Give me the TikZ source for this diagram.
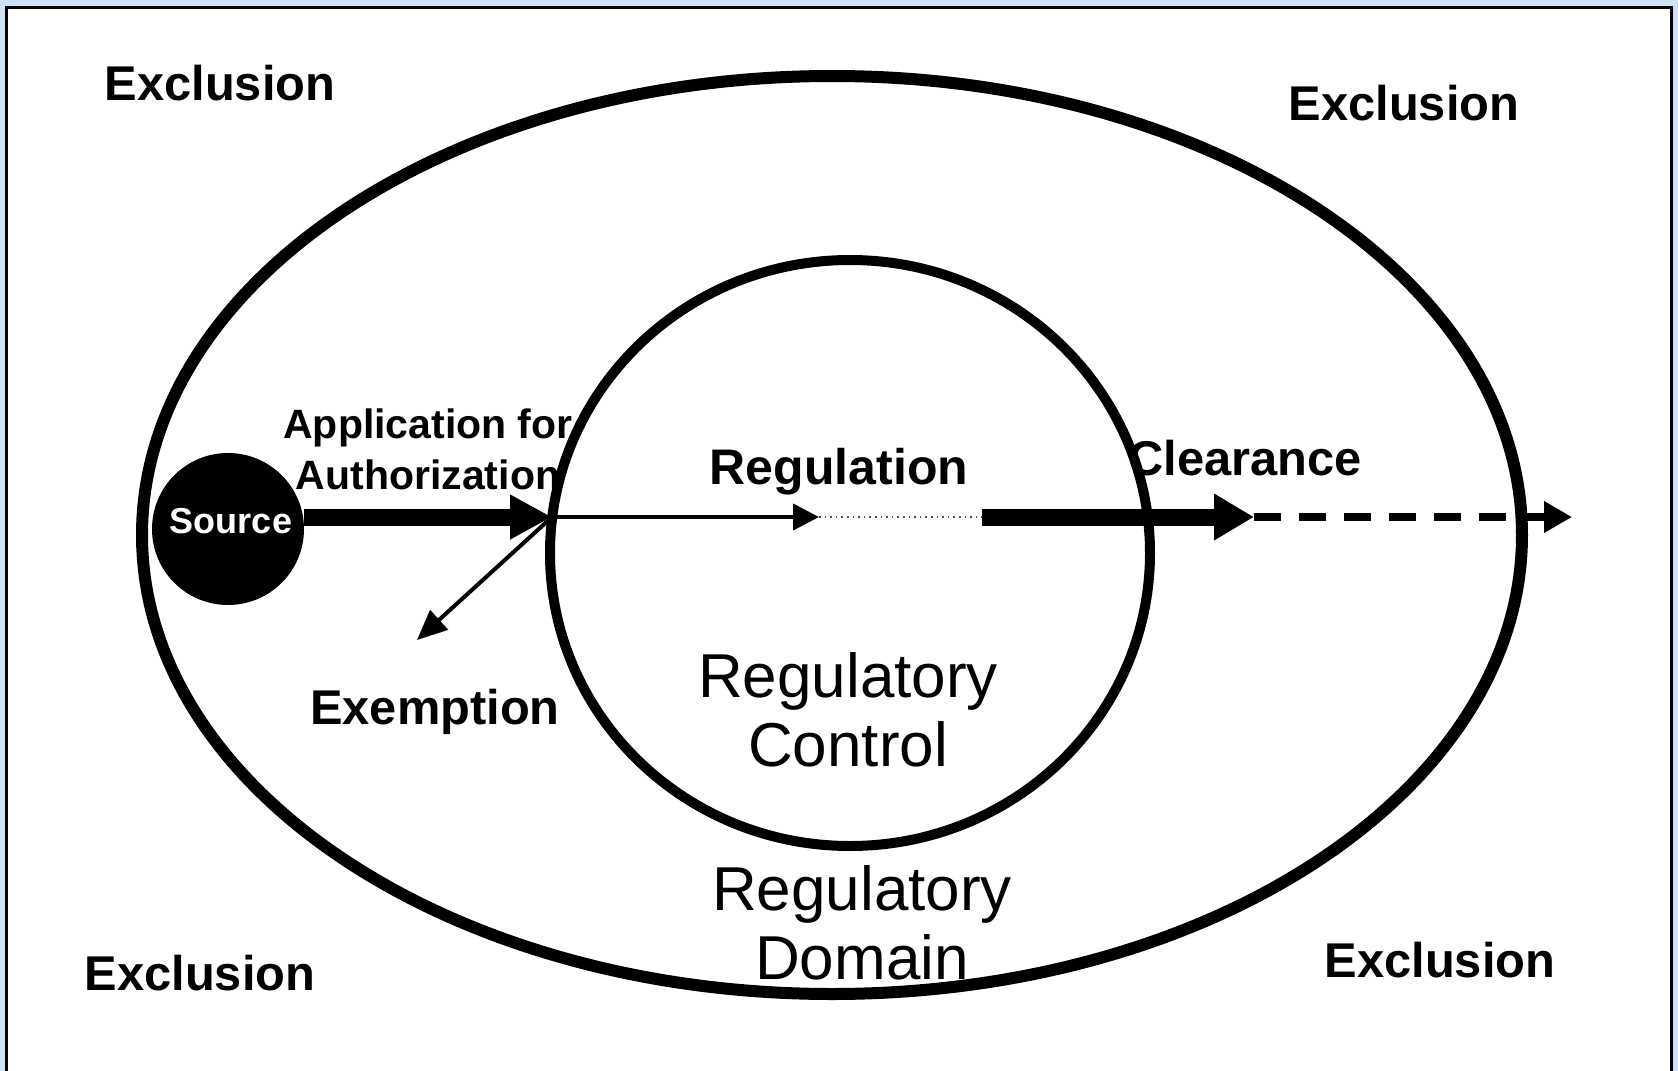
\documentclass[tikz,border=0pt]{standalone}
\usepackage{fontspec}
\setmainfont{Liberation Sans}
\usetikzlibrary{arrows.meta}
\definecolor{bgblue}{RGB}{205,226,248}
\begin{document}
\begin{tikzpicture}[x=0.5pt,y=-0.5pt,
  lbl/.style={inner sep=0pt,font=\bfseries\fontsize{24.4pt}{29pt}\selectfont},
  big/.style={inner sep=0pt,align=center,font=\fontsize{31pt}{34.5pt}\selectfont},
  ring/.style={draw=black,line width=6pt},
  thickarrow/.style={line width=8.5pt,-{Triangle[length=21pt,width=21pt]}},
  thinarrow/.style={line width=2pt,-{Triangle[length=13pt,width=13pt]}}]
\useasboundingbox (0,0) rectangle (1678,1071);
\fill[bgblue] (0,0) rectangle (1678,1071);
\draw[fill=white,line width=1.5pt] (6,7) rectangle (1671,1090);
% ellipses
\draw[ring] (832,535) ellipse [x radius=345pt, y radius=229.5pt];
\draw[draw=black,line width=5pt] (850,553) ellipse [x radius=150pt, y radius=146.5pt];
% source
\node[circle,fill=black,minimum size=76pt,inner sep=0pt] (src) at (228,529) {};
\node[anchor=base,inner sep=0pt,text=white,font=\bfseries\fontsize{18pt}{22pt}\selectfont] (srct) at (231,533) {Source};
% points
\coordinate (J) at (552,517);
\coordinate (R) at (819,517);
\coordinate (D) at (982,517);
\coordinate (C) at (1254,517);
\coordinate (E) at (1572,517);
\coordinate (X) at (417,640);
% connectors
\draw[thickarrow] (src.east |- J) -- (J);
\draw[thinarrow] (J) -- (R);
\draw[line width=2pt,-{Triangle[length=15pt,width=13pt]}] (J) -- (X);
\draw[line width=0.8pt,dotted,black!70] (R) -- (D);
\draw[line width=8.5pt,-{Triangle[length=20pt,width=22pt]}] (D) -- (C);
\draw[line width=4pt,dash pattern=on 13.5pt off 9pt,-{Triangle[length=14pt,width=15pt]}] (C) -- (E);
% labels
\node[lbl,anchor=base] (ex1) at (220,100) {Exclusion};
\node[lbl,anchor=base] (ex2) at (1404,120) {Exclusion};
\node[lbl,anchor=base] (ex3) at (200,990) {Exclusion};
\node[lbl,anchor=base] (ex4) at (1440,977) {Exclusion};
\node[lbl,anchor=base] (exm) at (435,724) {Exemption};
\node[lbl,anchor=base,font=\bfseries\fontsize{25pt}{29pt}\selectfont] (reg) at (839,484) {Regulation};
\node[lbl,anchor=base] (clr) at (1245,475) {Clearance};
\node[inner sep=0pt,align=center,font=\bfseries\fontsize{20.5pt}{25.5pt}\selectfont] (app) at (428,449) {Application for\\Authorization};
\node[big] (rc) at (848,710) {Regulatory\\Control};
\node[big] (rd) at (862,923) {Regulatory\\Domain};
\end{tikzpicture}
\end{document}
